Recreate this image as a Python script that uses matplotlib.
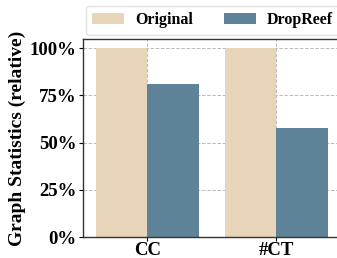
import matplotlib
matplotlib.use("Agg")
import matplotlib.pyplot as plt
import numpy as np

categories = ["CC", "#CT"]
original = [1.0, 1.0]
dropreef = [0.81, 0.575]
yticks = [0, 0.25, 0.5, 0.75, 1.0]
ytick_labels = ["0%", "25%", "50%", "75%", "100%"]

plt.rcParams['font.family'] = ['Liberation Serif', 'DejaVu Serif']
plt.rcParams['font.weight'] = 'bold'

fig = plt.figure(figsize=(3.37, 2.58), dpi=100)
ax = fig.add_axes([83/337, 1-237/258, 1-83/337 + 0.01, (237-39)/258])

x = np.arange(len(categories))
w = 0.4
ax.bar(x - w/2, original, w, color='#E8D4B8', label='Original', zorder=2)
ax.bar(x + w/2, dropreef, w, color='#5E8399', label='DropReef', zorder=2)

ax.set_xlim(-0.5, 1.5)
ax.set_ylim(0, 1.048)
ax.set_xticks(x)
ax.set_xticklabels(categories, fontsize=13.5, fontweight='bold')
ax.set_yticks(yticks)
ax.set_yticklabels(ytick_labels, fontsize=13.5, fontweight='bold')
ax.set_ylabel("Graph Statistics (relative)", fontsize=14, fontweight='bold', labelpad=3)
ax.grid(True, linestyle='--', color='#BBBBBB', linewidth=0.7, zorder=0)
ax.set_axisbelow(True)
for s in ax.spines.values():
    s.set_color('#333333')
    s.set_linewidth(1.0)
ax.tick_params(axis='y', length=3, pad=1.5)
ax.tick_params(axis='x', length=3, pad=0.5)

fig.legend(loc='upper left', bbox_to_anchor=(86/337, 1-6/258), ncol=2,
           prop={'weight': 'bold', 'size': 11.5}, frameon=True, fancybox=True,
           handlelength=2.0, handleheight=0.7, handletextpad=0.7, columnspacing=1.9,
           borderpad=0.4, borderaxespad=0, edgecolor='#DDDDDD')

fig.savefig("out.png", dpi=100)
